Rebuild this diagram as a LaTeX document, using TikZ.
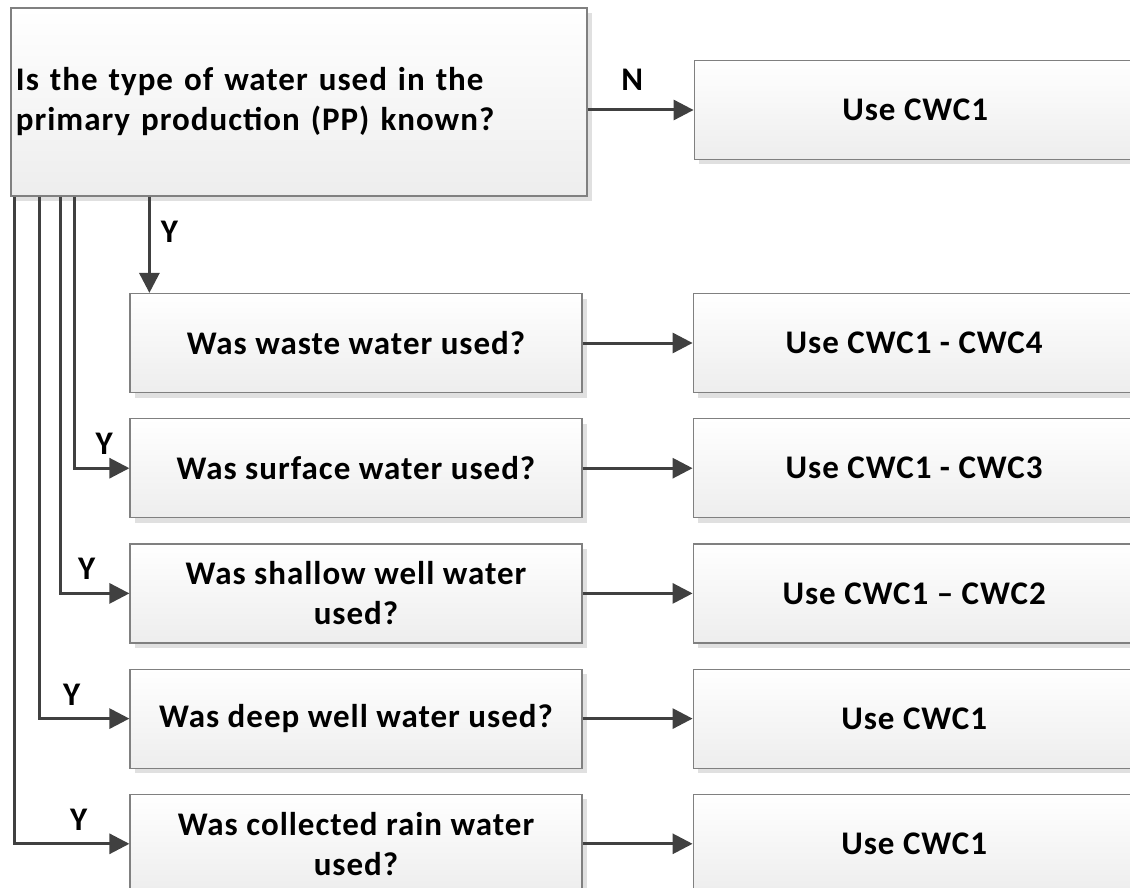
\documentclass[tikz,border=0pt]{standalone}
\usepackage{fontspec}
\setmainfont{Carlito}[LetterSpace=3]
\usepackage{tikz}
\usetikzlibrary{arrows.meta, positioning, shadows}

\begin{document}
\begin{tikzpicture}[
    x=1pt, y=-1pt,
    node distance=25pt and 110pt,
    box/.style={rectangle, draw=black!50, line width=1.2pt, top color=white, bottom color=black!7, general shadow={fill=black!12, shadow xshift=5pt, shadow yshift=-5pt}, inner sep=4pt, font=\fontsize{33}{40}\selectfont\bfseries},
    qbox/.style={box, minimum width=452pt, minimum height=99pt, align=center},
    abox/.style={box, minimum width=442pt, minimum height=99pt, align=center},
    arr/.style={-{Triangle[length=20pt, width=20pt]}, line width=3pt, black!75},
    lbl/.style={font=\fontsize{33}{40}\selectfont\bfseries, inner sep=0pt, black}
]
\useasboundingbox (0,0) rectangle (1130,888);

% first question
\node[box, minimum width=576pt, minimum height=188pt, text width=566pt] (known) at (299,102) {Is the type of water used in the\\primary production (PP) known?};
\node[abox, right=106pt of known, yshift=-8pt] (cwcN) {Use CWC1};
\draw[arr] (known.east |- cwcN.west) -- node[lbl, above=18pt, pos=0.42] {N} (cwcN.west);

% questions per water type
\node[qbox] (waste) at (356,343) {Was waste water used?};
\node[qbox, below=of waste] (surface) {Was surface water used?};
\node[qbox, below=of surface] (shallow) {Was shallow well water\\used?};
\node[qbox, below=of shallow] (deep) {Was deep well water used?};
\node[qbox, below=of deep] (rain) {Was collected rain water\\used?};

% resulting CWC ranges
\node[abox, right=of waste] (cwc4) {Use CWC1 - CWC4};
\node[abox, right=of surface] (cwc3) {Use CWC1 - CWC3};
\node[abox, right=of shallow] (cwc2) {Use CWC1 -- CWC2};
\node[abox, right=of deep] (cwc1a) {Use CWC1};
\node[abox, right=of rain] (cwc1b) {Use CWC1};

\draw[arr] (waste) -- (cwc4);
\draw[arr] (surface) -- (cwc3);
\draw[arr] (shallow) -- (cwc2);
\draw[arr] (deep) -- (cwc1a);
\draw[arr] (rain) -- (cwc1b);

% Y branches
\coordinate (yw) at ([xshift=20pt]waste.north west);
\draw[arr] (yw |- known.south) -- node[lbl, right=10pt, pos=0.37] {Y} (yw);
\draw[arr] ([xshift=64pt]known.south west) |- node[lbl, above=12pt, pos=0.77] {Y} (surface.west);
\draw[arr] ([xshift=50pt]known.south west) |- node[lbl, above=12pt, pos=0.69] {Y} (shallow.west);
\draw[arr] ([xshift=29pt]known.south west) |- node[lbl, above=12pt, pos=0.68] {Y} (deep.west);
\draw[arr] ([xshift=4pt]known.south west) |- node[lbl, above=12pt, pos=0.78] {Y} (rain.west);
\end{tikzpicture}
\end{document}
